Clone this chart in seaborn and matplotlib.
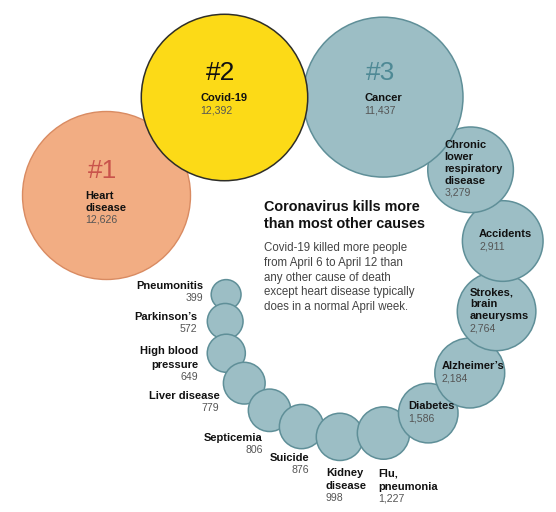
import numpy as np
import pandas as pd
import matplotlib
matplotlib.use("Agg")
import matplotlib.pyplot as plt
import seaborn as sns

# ---------------- data ----------------
causes = ["Heart\ndisease", "Covid-19", "Cancer",
          "Chronic\nlower\nrespiratory\ndisease", "Accidents",
          "Strokes,\nbrain\naneurysms", "Alzheimer’s", "Diabetes",
          "Flu,\npneumonia", "Kidney\ndisease", "Suicide", "Septicemia",
          "Liver disease", "High blood\npressure", "Parkinson’s", "Pneumonitis"]
deaths = [12626, 12392, 11437, 3279, 2911, 2764, 2184, 1586,
          1227, 998, 876, 806, 779, 649, 572, 399]
ranks = ["#1", "#2", "#3"]
title_lines = ["Coronavirus kills more", "than most other causes"]
body_lines = ["Covid-19 killed more people",
              "from April 6 to April 12 than",
              "any other cause of death",
              "except heart disease typically",
              "does in a normal April week."]

# ---------------- layout (pixel units) ----------------
W, H, DPI = 556, 512, 100
R_MAX = 84.0
start = (106.0, 195.0)
headings = [39.7, 0, -39.7, -65.7, -95, -113.5, -136, -156, -175,
            165, 153, 133, 121, 92, 88]
overlaps = [14, 4, 9, 5, 9, 7, 7, 7, 6, 6, 7.5, 5, 5, 5, 6]

vmax = max(deaths)
radii = [R_MAX * np.sqrt(v / vmax) for v in deaths]
xs, ys = [start[0]], [start[1]]
for i, (hd, ov) in enumerate(zip(headings, overlaps)):
    d = radii[i] + radii[i + 1] - ov
    a = np.deg2rad(hd)
    xs.append(xs[-1] + d * np.cos(a))
    ys.append(ys[-1] - d * np.sin(a))

df = pd.DataFrame({"cause": causes, "deaths": deaths, "x": xs, "y": ys,
                   "r": radii})

# scatter size (pt^2) proportional to value -> area-true circles
k = (2 * R_MAX * 72 / DPI) ** 2 / vmax
smin, smax = k * min(deaths), k * vmax
norm = (min(deaths), vmax)

fill_heart, edge_heart = "#F2AD83", "#D98B62"
fill_covid, edge_covid = "#FCDA17", "#2E2E28"
fill_other, edge_other = "#9CBEC5", "#5F8F98"

fig = plt.figure(figsize=(W / DPI, H / DPI), dpi=DPI)
ax = fig.add_axes([0, 0, 1, 1])
ax.set_xlim(0, W)
ax.set_ylim(H, 0)
ax.axis("off")

others = df.iloc[2:].iloc[::-1]
sns.scatterplot(data=others, x="x", y="y", size="deaths", sizes=(smin, smax),
                size_norm=norm, color=fill_other, edgecolor=edge_other,
                linewidth=1.1, legend=False, ax=ax, zorder=2)
sns.scatterplot(data=df.iloc[[0]], x="x", y="y", size="deaths",
                sizes=(smin, smax), size_norm=norm, color=fill_heart,
                edgecolor=edge_heart, linewidth=1.0, legend=False, ax=ax,
                zorder=3)
sns.scatterplot(data=df.iloc[[1]], x="x", y="y", size="deaths",
                sizes=(smin, smax), size_norm=norm, color=fill_covid,
                edgecolor=edge_covid, linewidth=1.1, legend=False, ax=ax,
                zorder=4)
ax.set_xlim(0, W)
ax.set_ylim(H, 0)
ax.axis("off")

FONT = "Liberation Sans"
NAME_KW = dict(fontsize=8, fontweight="bold", color="#111111", family=FONT,
               va="center", zorder=10)
VAL_KW = dict(fontsize=7.6, color="#555555", family=FONT, va="center",
              zorder=10)
renderer = fig.canvas.get_renderer()


def fmt(v):
    return f"{v:,}"


def block(lines, value, x, y, ha, lh=12.5, vgap=12):
    texts = []
    for j, ln in enumerate(lines):
        texts.append(ax.text(x, y + j * lh, ln, ha=ha, **NAME_KW))
    texts.append(ax.text(x, y + (len(lines) - 1) * lh + vgap, value, ha=ha,
                         **VAL_KW))
    return texts


def centered_block(lines, value, cx, y, lh=12, vgap=12):
    texts = block(lines, value, 0, y, "left", lh, vgap)
    wmax = max(t.get_window_extent(renderer).width for t in texts)
    for t in texts:
        t.set_x(cx - wmax / 2)


rank_colors = ["#C9534B", "#111111", "#4E8995"]
outside = {  # label anchor offsets from circle centre (layout)
    8: ("left", -5, 40), 9: ("left", -14, 36), 10: ("right", 8, 31),
    11: ("right", -7, 28), 12: ("right", -25, 13), 13: ("right", -28, -2),
    14: ("right", -28, -4), 15: ("right", -23, -9),
}

for i, row in df.iterrows():
    lines = row["cause"].split("\n")
    cx, cy = row["x"], row["y"]
    if i < 3:
        ax.text(cx - 3, cy - 24, ranks[i], ha="center", va="center",
                fontsize=19, color=rank_colors[i], family=FONT, zorder=10)
        centered_block(lines, fmt(row["deaths"]), cx, cy + 1)
    elif i < 8:
        n = len(lines)
        centered_block(lines, fmt(row["deaths"]), cx + 3, cy - 1 - n * 6)
    else:
        ha, dx, dy = outside[i]
        block(lines, fmt(row["deaths"]), cx + dx, cy + dy, ha, lh=13.5)

for j, ln in enumerate(title_lines):
    ax.text(264, 207 + j * 16.5, ln, ha="left", va="center", fontsize=10.4,
            fontweight="bold", color="#111111", family=FONT)
for j, ln in enumerate(body_lines):
    ax.text(264, 248 + j * 14.8, ln, ha="left", va="center", fontsize=8.3,
            color="#444444", family=FONT)

fig.savefig("out.png", dpi=DPI)
